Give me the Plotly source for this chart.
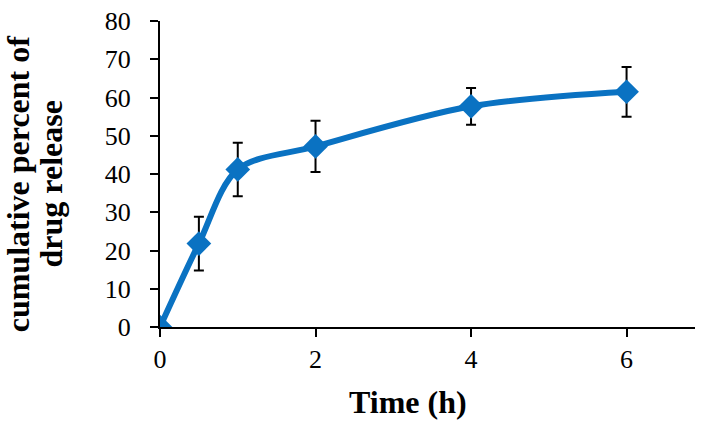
import plotly.graph_objects as go

time_h = [0, 0.5, 1, 2, 4, 6]
release = [0, 21.8, 41.2, 47.2, 57.7, 61.5]
release_err = [0, 7.0, 7.0, 6.7, 4.8, 6.5]

x_ticks = [0, 2, 4, 6]
y_ticks = [0, 10, 20, 30, 40, 50, 60, 70, 80]

y_title_lines = ["cumulative percent of", "drug release"]
x_title = "Time (h)"

blue = "#0A72C2"
font_family = "Liberation Serif, Times New Roman, serif"

fig = go.Figure()
fig.add_trace(go.Scatter(
    x=time_h, y=release,
    mode="lines+markers",
    line=dict(color=blue, width=6, shape="spline", smoothing=0.9),
    marker=dict(symbol="diamond", size=19, color=blue),
    error_y=dict(type="data", array=release_err, visible=True,
                 color="black", thickness=2, width=5),
    showlegend=False,
))

axis_common = dict(showline=True, linecolor="black", linewidth=2, ticks="outside",
                   ticklen=8, tickwidth=2, tickcolor="black", showgrid=False,
                   zeroline=False, tickfont=dict(size=26, family=font_family))

fig.update_layout(
    width=703, height=427,
    margin=dict(l=160, r=8, t=21, b=100),
    plot_bgcolor="white", paper_bgcolor="white",
    font=dict(family=font_family, size=26, color="black"),
    xaxis=dict(range=[0, 6.88], tickvals=x_ticks, ticklabelstandoff=0, **axis_common),
    yaxis=dict(range=[0, 80], tickvals=y_ticks, ticklabelstandoff=14, **axis_common),
    annotations=[
        dict(text="<b>%s</b>" % x_title, xref="paper", yref="paper", x=0.464, y=-0.245,
             xanchor="center", yanchor="middle", showarrow=False,
             font=dict(size=32, family=font_family)),
        dict(text="<b>%s</b>" % y_title_lines[0], xref="paper", yref="paper",
             x=-0.265, y=0.467, xanchor="center", yanchor="middle", textangle=-90,
             showarrow=False, font=dict(size=32, family=font_family)),
        dict(text="<b>%s</b>" % y_title_lines[1], xref="paper", yref="paper",
             x=-0.203, y=0.467, xanchor="center", yanchor="middle", textangle=-90,
             showarrow=False, font=dict(size=32, family=font_family)),
    ],
)

fig.write_html("out.html", config={"displayModeBar": False},
               post_script="document.body.style.margin='0';")
